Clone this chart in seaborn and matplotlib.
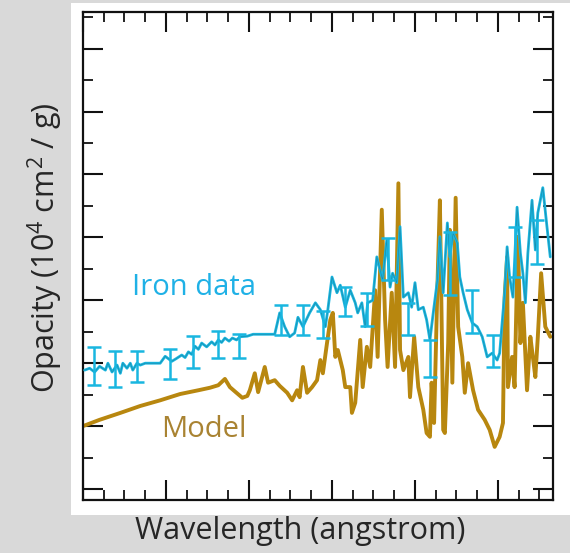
import matplotlib
matplotlib.use("Agg")
import matplotlib.pyplot as plt
import numpy as np
import pandas as pd
import seaborn as sns
from matplotlib.patches import Rectangle
from matplotlib.ticker import MultipleLocator

# model opacity (wavelength in angstrom, opacity in 1e4 cm^2/g)
model_wl = [7.00, 7.20, 7.45, 7.69, 7.93, 8.17, 8.39, 8.53, 8.63, 8.71, 8.77, 8.84, 8.92, 8.98,
            9.01, 9.07, 9.11, 9.19, 9.23, 9.31, 9.37, 9.46, 9.52, 9.58, 9.61, 9.65, 9.70, 9.76,
            9.82, 9.86, 9.89, 9.94, 9.98, 10.01, 10.04, 10.07, 10.13, 10.16, 10.22, 10.24, 10.28,
            10.34, 10.37, 10.42, 10.46, 10.52, 10.55, 10.60, 10.64, 10.67, 10.72, 10.76, 10.80,
            10.82, 10.86, 10.92, 10.94, 10.99, 11.04, 11.10, 11.14, 11.18, 11.20, 11.23, 11.27,
            11.30, 11.34, 11.36, 11.40, 11.42, 11.45, 11.49, 11.52, 11.57, 11.60, 11.64, 11.70,
            11.76, 11.84, 11.90, 11.96, 12.02, 12.06, 12.08, 12.11, 12.12, 12.17, 12.20, 12.24,
            12.27, 12.30, 12.35, 12.39, 12.42, 12.45, 12.48, 12.52, 12.57, 12.63]
model_op = [1.00, 1.10, 1.21, 1.32, 1.41, 1.51, 1.57, 1.61, 1.65, 1.75, 1.62, 1.54, 1.45, 1.48,
            1.57, 1.84, 1.54, 1.94, 1.69, 1.73, 1.64, 1.53, 1.41, 1.57, 1.46, 1.94, 1.53, 1.62,
            1.73, 2.05, 1.84, 2.32, 2.69, 2.80, 2.10, 2.21, 1.89, 1.62, 1.62, 1.21, 1.37,
            2.37, 1.62, 2.26, 1.94, 3.16, 2.10, 4.44, 2.69, 1.94, 3.12, 1.94, 4.86,
            2.21, 1.89, 2.10, 1.46, 2.42, 1.62, 1.26, 0.89, 0.83, 1.69, 1.05, 3.21,
            4.59, 0.94, 0.89, 2.32, 4.12, 1.69, 4.63, 2.58, 2.10, 1.53, 2.00, 1.57,
            1.26, 1.10, 0.94, 0.67, 0.83, 1.05, 3.05, 3.69, 1.62, 2.10, 1.62, 4.01,
            2.32, 2.96, 1.57, 2.42, 2.10, 1.78, 2.42, 3.43, 2.58, 2.42]

# measured iron opacity
iron_wl = [7.02, 7.08, 7.14, 7.20, 7.27, 7.30, 7.35, 7.41, 7.45, 7.48, 7.53, 7.57, 7.60, 7.65,
           7.69, 7.75, 7.93, 7.99, 8.02, 8.07, 8.12, 8.19, 8.23, 8.27, 8.31, 8.35, 8.39, 8.43,
           8.49, 8.55, 8.59, 8.63, 8.67, 8.71, 8.76, 8.80, 8.85, 8.89, 8.98, 9.05, 9.31, 9.37,
           9.43, 9.49, 9.55, 9.59, 9.65, 9.73, 9.80,
           9.86, 9.92, 9.95, 10.00, 10.06, 10.10, 10.16, 10.22, 10.28, 10.31, 10.36, 10.40,
           10.43, 10.49, 10.54, 10.58, 10.61, 10.66, 10.70, 10.73, 10.78, 10.82, 10.86, 10.92,
           10.96, 11.00, 11.04, 11.10, 11.14, 11.18, 11.22, 11.27, 11.30, 11.34, 11.39, 11.42,
           11.46, 11.51, 11.54, 11.58, 11.63, 11.69, 11.75, 11.81, 11.87, 11.93, 11.99, 12.02,
           12.08, 12.11, 12.14, 12.18, 12.23, 12.27, 12.30, 12.33, 12.36, 12.41, 12.45, 12.48,
           12.54, 12.59, 12.63]
iron_op = [1.89, 1.92, 1.86, 1.95, 1.89, 2.00, 1.86, 1.97, 1.84, 2.00, 1.92, 2.00, 1.89, 2.00,
           1.97, 2.00, 2.00, 2.11, 2.08, 2.03, 2.07, 2.13, 2.09, 2.18, 2.14, 2.27, 2.22, 2.32,
           2.26, 2.34, 2.29, 2.37, 2.33, 2.40, 2.35, 2.40, 2.37, 2.42, 2.43, 2.46, 2.46, 2.80,
           2.58, 2.42, 2.48, 2.73, 2.58, 2.80, 2.96,
           2.85, 2.58, 2.85, 3.37, 3.12, 3.24, 2.89, 3.16, 2.96, 2.80, 2.96, 2.58,
           2.96, 3.00, 3.69, 3.48, 3.32, 3.96, 3.21, 3.43, 3.28, 4.17, 3.05, 3.12,
           2.89, 3.28, 2.85, 2.89, 2.69, 2.37, 2.80, 3.32, 4.01, 3.12, 4.23, 3.69,
           4.07, 3.91, 3.37, 3.12, 2.85, 2.64, 2.58, 2.42, 2.10, 2.16, 2.05, 2.16,
           3.12, 3.85, 3.37, 3.05, 4.48, 3.75, 3.43, 2.96, 3.75, 4.59, 3.80, 4.39,
           4.79, 4.17, 3.69]

# error bars on the measurement (low / high ends)
err_wl = [7.13, 7.39, 7.65, 8.05, 8.33, 8.63, 8.88, 9.39, 9.65, 9.89,
          10.16, 10.42, 10.67, 10.92, 11.18, 11.42, 11.69, 11.94, 12.20, 12.47]
err_lo = [1.65, 1.62, 1.70, 1.75, 1.92, 2.08, 2.08, 2.45, 2.45, 2.40,
          2.75, 2.59, 3.32, 2.45, 1.78, 3.08, 2.48, 1.94, 3.37, 3.58]
err_hi = [2.26, 2.19, 2.19, 2.23, 2.43, 2.51, 2.46, 2.93, 2.93, 2.83,
          3.21, 3.12, 3.99, 2.96, 2.37, 4.09, 3.16, 2.45, 4.17, 4.28]

model_df = pd.DataFrame({"wl": model_wl, "op": model_op})
iron_df = pd.DataFrame({"wl": iron_wl, "op": iron_op})

sns.set_style("ticks")
plt.rcParams['font.family'] = ['Open Sans', 'DejaVu Sans']
plt.rcParams['mathtext.fontset'] = 'custom'
plt.rcParams['mathtext.rm'] = 'Open Sans'

iron_c = '#19b6e0'
model_c = '#b8870f'
text_c = '#262626'

fig = plt.figure(figsize=(5.7, 5.53), dpi=100, facecolor='#d9d9d9')
fig.patches.append(Rectangle((0.1246, 0.0687), 0.8754, 0.9259, transform=fig.transFigure,
                             facecolor='white', edgecolor='none', zorder=-5))
ax = fig.add_axes([0.1456, 0.0958, 0.8246, 0.8825])
ax.set_zorder(2)
ax.set_facecolor('white')

sns.lineplot(data=model_df, x="wl", y="op", sort=False, estimator=None, color=model_c,
             linewidth=2.8, ax=ax, zorder=2)
sns.lineplot(data=iron_df, x="wl", y="op", sort=False, estimator=None, color=iron_c,
             linewidth=2.0, ax=ax, zorder=3)
# thin darker core, as in the original trace
sns.lineplot(data=iron_df, x="wl", y="op", sort=False, estimator=None, color='#1d6d84',
             linewidth=0.5, alpha=0.55, ax=ax, zorder=3.5)

err_mid = (np.array(err_lo) + np.array(err_hi)) / 2
err_half = (np.array(err_hi) - np.array(err_lo)) / 2
ax.errorbar(err_wl, err_mid, yerr=err_half, fmt='none', ecolor=iron_c,
            elinewidth=1.8, capsize=4.8, capthick=1.8, zorder=4)

ax.text(8.34, 3.21, "Iron data", color='#1fb1e6', fontsize=21, ha='center', va='center')
ax.text(8.45, 0.94, "Model", color='#a98332', fontsize=21, ha='center', va='center')

ax.set_xlim(7.0, 12.663)
ax.set_ylim(-0.175, 7.583)
ax.xaxis.set_major_locator(MultipleLocator(1))
ax.xaxis.set_minor_locator(MultipleLocator(0.25))
ax.yaxis.set_major_locator(MultipleLocator(1))
ax.yaxis.set_minor_locator(MultipleLocator(0.5))
ax.tick_params(which='both', direction='in', top=True, right=True,
               labelbottom=False, labelleft=False, color='#111111')
ax.tick_params(which='major', length=14.5, width=1.5)
ax.tick_params(which='minor', length=7.5, width=1.3)
for s in ax.spines.values():
    s.set_linewidth(1.6)
    s.set_color('#111111')
ax.set_xlabel("")
ax.set_ylabel("")

fig.text(300 / 570, 1 - 531 / 553, "Wavelength (angstrom)", fontsize=22, color=text_c,
         ha='center', va='center')
fig.text(45 / 570, 1 - 248 / 553, r"Opacity (10$^{\mathregular{4}}$ cm$^{\mathregular{2}}$ / g)",
         fontsize=22, color=text_c, rotation=90, ha='center', va='center')

fig.savefig("out.png", dpi=100, facecolor=fig.get_facecolor())
